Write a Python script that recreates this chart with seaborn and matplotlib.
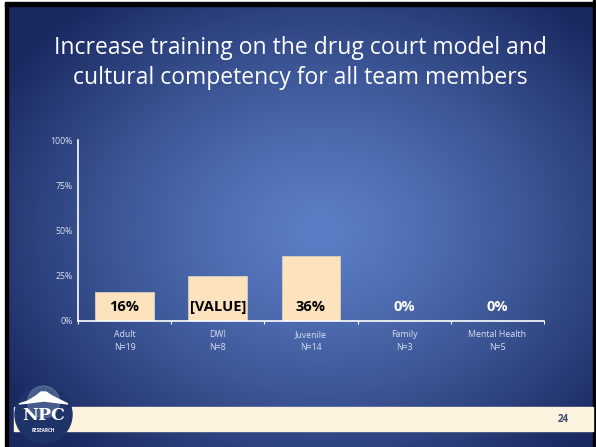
import numpy as np
import pandas as pd
import matplotlib
matplotlib.use("Agg")
import matplotlib.pyplot as plt
from matplotlib.patches import Rectangle, Circle, Polygon
import seaborn as sns

categories = ["Adult\nN=19", "DWI\nN=8", "Juvenile\nN=14", "Family\nN=3", "Mental Health\nN=5"]
values = [16, 25, 36, 0, 0]
bar_labels = ["16%", "[VALUE]", "36%", "0%", "0%"]
y_ticks = [0, 25, 50, 75, 100]
y_tick_labels = ["0%", "25%", "50%", "75%", "100%"]
title = "Increase training on the drug court model and\ncultural competency for all team members"
page_number = "24"

sns.set_theme(style="white")
plt.rcParams['font.family'] = ['Open Sans', 'DejaVu Sans']

W, H = 596, 447
fig = plt.figure(figsize=(W / 100, H / 100), dpi=100)
fig.patch.set_facecolor("white")

# Background axes (pixel coordinates)
bg = fig.add_axes([0, 0, 1, 1])
bg.set_xlim(0, W)
bg.set_ylim(H, 0)
bg.axis("off")

# radial gradient
yy, xx = np.mgrid[0:H, 0:W]
cx, cy = 320, 230
d = np.sqrt(((xx - cx) / 370.0) ** 2 + ((yy - cy) / 290.0) ** 2)
d = np.clip(d, 0, 1)
c_in = np.array([0x5B, 0x7E, 0xC6]) / 255.0
c_out = np.array([0x1A, 0x29, 0x60]) / 255.0
t = d[..., None] ** 1.3
img = c_in * (1 - t) + c_out * t
bg.imshow(img, extent=(0, W, H, 0), zorder=0, aspect="auto")

# black frame / white margins
bg.add_patch(Rectangle((0, 0), 5, H, color="white", zorder=1))
bg.add_patch(Rectangle((5, 0), 3, H, color="black", zorder=1))
bg.add_patch(Rectangle((0, 0), W, 1.5, color="white", zorder=1))
bg.add_patch(Rectangle((5, 1.5), W, 4, color="black", zorder=1))
bg.add_patch(Rectangle((593, 0), 3, H, color="black", zorder=1))

# footer band
bg.add_patch(Rectangle((14, 407), 579, 24, color="#FDF3DF", zorder=2))
bg.text(563, 419, page_number, color="#3B4A6B", fontsize=7, fontweight="bold",
        ha="center", va="center", zorder=3)

# logo
bg.add_patch(Circle((43.5, 414.5), 28.5, color="#1E3468", zorder=4))
bg.add_patch(Circle((43.5, 402), 16, color="#6F84AE", alpha=0.5, zorder=4))
bg.add_patch(Polygon([(19, 404), (28, 401), (36, 396), (41, 392), (46, 392), (52, 396),
                      (60, 400), (68, 404), (60, 403), (44, 401), (28, 403)],
                     closed=True, color="white", zorder=5))
bg.text(43.5, 416, "NPC", color="white", fontsize=12.5, fontweight="bold",
        family=["DejaVu Serif"], ha="center", va="center", zorder=6)
bg.text(43.5, 430, "RESEARCH", color="white", fontsize=3.3, fontweight="bold",
        ha="center", va="center", zorder=6)

# title
bg.text(300, 63, title, color="white", fontsize=16.5, ha="center", va="center",
        linespacing=1.35, zorder=3)

# chart axes
left, right, top, bottom = 78, 544, 140, 321
ax = fig.add_axes([left / W, 1 - bottom / H, (right - left) / W, (bottom - top) / H])
ax.patch.set_alpha(0)
df = pd.DataFrame({"category": categories, "value": values})
sns.barplot(data=df, x="category", y="value", ax=ax, color="#FDE3BD",
            width=0.63, edgecolor="#D8CFC0", linewidth=0.6, saturation=1)
ax.set_ylim(0, 100)
ax.set_xlim(-0.5, len(categories) - 0.5)
ax.set_yticks(y_ticks)
ax.set_yticklabels(y_tick_labels)
ax.set_xlabel("")
ax.set_ylabel("")
for s in ["top", "right"]:
    ax.spines[s].set_visible(False)
for s in ["left", "bottom"]:
    ax.spines[s].set_color("white")
    ax.spines[s].set_linewidth(1.2)
ax.tick_params(axis="y", colors="#D9E0F0", labelsize=6.3, length=2, pad=2, width=0.8)
ax.tick_params(axis="x", colors="#D9E0F0", labelsize=6.3, length=0, pad=6.5)
ax.set_xticks(range(len(categories)), categories)
for lbl in ax.get_xticklabels():
    lbl.set_linespacing(1.5)
ax.set_xticks(np.arange(-0.5, len(categories) + 0.5, 1), minor=True)
ax.tick_params(axis="x", which="minor", length=2.5, color="white", width=0.8, bottom=True)
ax.grid(False)

for i, (v, lab) in enumerate(zip(values, bar_labels)):
    col = "black" if v > 0 else "white"
    ax.text(i, 7.5, lab, ha="center", va="center", color=col, fontsize=10.5,
            fontweight="bold")

fig.savefig("out.png", dpi=100)
